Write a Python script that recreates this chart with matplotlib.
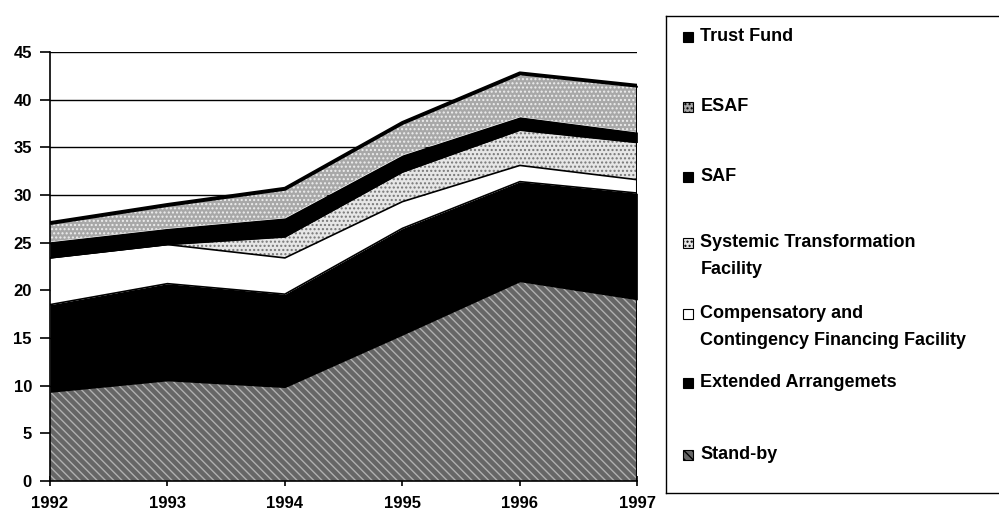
import numpy as np
import matplotlib
matplotlib.use("Agg")
import matplotlib.pyplot as plt
from matplotlib.patches import Rectangle

plt.rcParams["font.family"] = ["Liberation Sans", "DejaVu Sans"]
plt.rcParams["font.weight"] = "bold"
plt.rcParams["hatch.linewidth"] = 1.0

# Daten (Mrd.)
years = [1992, 1993, 1994, 1995, 1996, 1997]
stand_by = [9.3, 10.5, 9.8, 15.3, 20.9, 19.0]
extended = [9.2, 10.2, 9.8, 11.2, 10.5, 11.2]
ccff = [4.9, 4.1, 3.8, 2.8, 1.7, 1.4]
stf = [0.0, 0.0, 2.2, 3.1, 3.7, 3.9]
saf = [1.7, 1.7, 2.0, 1.8, 1.4, 1.1]
esaf = [1.8, 2.3, 2.9, 3.2, 4.4, 4.7]
trust_fund = [0.2, 0.2, 0.2, 0.2, 0.2, 0.2]

y_ticks = [0, 5, 10, 15, 20, 25, 30, 35, 40, 45]

# Reihenfolge von unten nach oben: (Name, Werte, Fläche, Schraffur, Schraffurfarbe)
layers = [
    ("Stand-by", stand_by, "#666666", "\\\\\\\\", "#b0b0b0"),
    ("Extended Arrangemets", extended, "black", None, "black"),
    ("Compensatory and\nContingency Financing Facility", ccff, "white", None, "white"),
    ("Systemic Transformation\nFacility", stf, "#e6e6e6", "....", "#777777"),
    ("SAF", saf, "black", None, "black"),
    ("ESAF", esaf, "#a8a8a8", "....", "#eeeeee"),
    ("Trust Fund", trust_fund, "black", None, "black"),
]

fig = plt.figure(figsize=(9.99, 5.12), dpi=100)
ax = fig.add_axes([0.050, 0.0605, 0.588, 0.838])

x = np.array(years)
bottom = np.zeros(len(years))
for name, vals, fc, hatch, hc in layers:
    top = bottom + np.array(vals)
    ax.fill_between(x, bottom, top, facecolor=fc, hatch=hatch, edgecolor=hc,
                    linewidth=0, zorder=2)
    bottom = top

# Umrisslinien
cum = np.zeros(len(years))
for name, vals, fc, hatch, hc in layers:
    cum = cum + np.array(vals)
    if name in ("Extended Arrangemets", "Compensatory and\nContingency Financing Facility",
                "Systemic Transformation\nFacility"):
        ax.plot(x, cum, color="black", lw=1.2, zorder=3)
ax.plot(x, cum, color="black", lw=2.2, zorder=3)
ax.plot([years[-1], years[-1]], [0, cum[-1]], color="black", lw=1.5, zorder=3)

ax.set_xlim(years[0], years[-1])
ax.set_ylim(0, 45)
ax.set_yticks(y_ticks)
ax.set_xticks(years)
ax.yaxis.grid(True, color="black", lw=1.0, zorder=1)
ax.set_axisbelow(True)
for s in ("top", "right"):
    ax.spines[s].set_visible(False)
ax.spines["left"].set_linewidth(1.2)
ax.spines["bottom"].set_linewidth(1.2)
ax.tick_params(axis="y", direction="out", length=7, width=1.2, labelsize=12, pad=6)
ax.tick_params(axis="x", direction="inout", length=7, width=1.2, labelsize=12, pad=7)
for lab in ax.get_xticklabels() + ax.get_yticklabels():
    lab.set_fontweight("bold")

# Legende als eigener Rahmen (Koordinaten in Pixeln von oben)
lax = fig.add_axes([0.667, 0.037, 0.34, 0.932])
lax.set_xlim(666, 666 + 0.34 * 999)
lax.set_ylim(16 + 0.932 * 512, 16)
lax.set_xticks([])
lax.set_yticks([])
for s in lax.spines.values():
    s.set_linewidth(1.0)
lax.spines["right"].set_visible(False)

legend_y = {
    "Trust Fund": 37,
    "ESAF": 107,
    "SAF": 177,
    "Systemic Transformation\nFacility": 243,
    "Compensatory and\nContingency Financing Facility": 314,
    "Extended Arrangemets": 383,
    "Stand-by": 455,
}
for name, vals, fc, hatch, hc in layers:
    y0 = legend_y[name]
    lax.add_patch(Rectangle((683, y0 - 5), 10, 10, facecolor=fc, hatch=hatch,
                            edgecolor="black", lw=0.8))
    for i, line in enumerate(name.split("\n")):
        lax.text(700, y0 + 27 * i, line, fontsize=13, fontweight="bold",
                 va="center", ha="left")

fig.savefig("out.png", dpi=100)
